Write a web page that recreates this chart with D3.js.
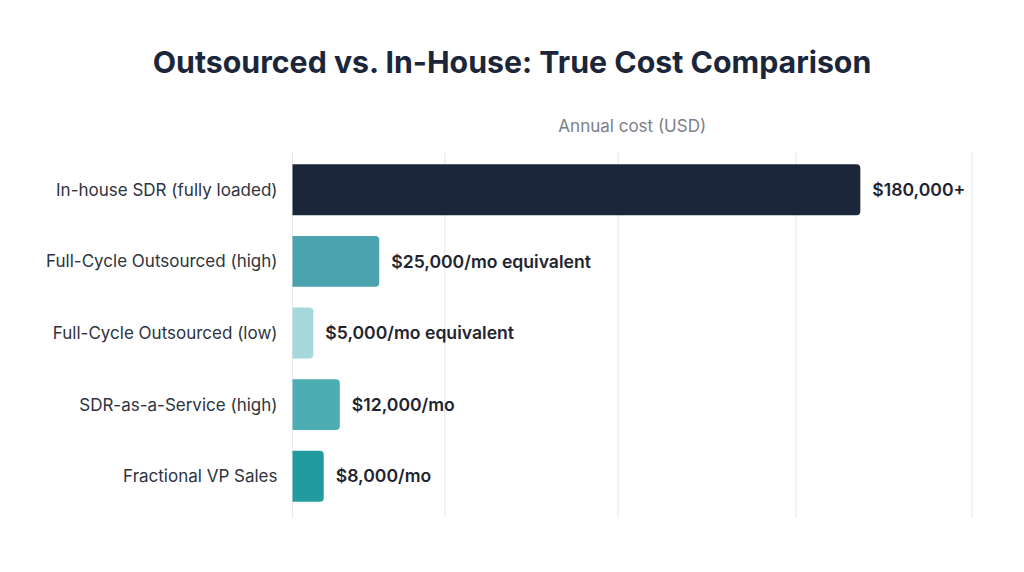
<!DOCTYPE html>
<html>
<head>
<meta charset="utf-8">
<script src="https://cdn.jsdelivr.net/npm/d3@7"></script>
<style>
  html, body { margin: 0; padding: 0; background: #fff; }
  svg text { font-family: Inter, "Noto Sans", sans-serif; }
</style>
</head>
<body>
<div id="chart"></div>
<script>
// chart data
var categories = [
    "In-house SDR (fully loaded)",
    "Full-Cycle Outsourced (high)",
    "Full-Cycle Outsourced (low)",
    "SDR-as-a-Service (high)",
    "Fractional VP Sales"
];
var values = [180000, 27500, 6600, 15000, 9900];
var valueLabels = [
    "$180,000+",
    "$25,000/mo equivalent",
    "$5,000/mo equivalent",
    "$12,000/mo",
    "$8,000/mo"
];
var barColors = ["#1b263b", "#4ba3af", "#a6d8db", "#4caeb3", "#219b9d"];
var gridValues = [0, 48300, 103200, 159600, 215400];
var xMax = 215400;

var width = 1024;
var height = 572;
var plotLeft = 292.5, plotRight = 972;
var plotTop = 150, plotBottom = 516;

var svg = d3.select("#chart")
    .append("svg")
    .attr("width", width)
    .attr("height", height);

var x = d3.scaleLinear()
    .domain([0, xMax])
    .range([plotLeft, plotRight]);

var y = d3.scaleBand()
    .domain(categories)
    .range([plotTop, plotBottom])
    .paddingInner(0.29)
    .paddingOuter(0.2);

// title
svg.append("text")
    .attr("x", width / 2)
    .attr("y", 73)
    .attr("text-anchor", "middle")
    .style("font-size", "30.3px")
    .style("font-weight", 700)
    .style("fill", "#1b263b")
    .text("Outsourced vs. In-House: True Cost Comparison");

// axis title
svg.append("text")
    .attr("x", (plotLeft + plotRight) / 2)
    .attr("y", 132)
    .attr("text-anchor", "middle")
    .style("font-size", "17px")
    .style("fill", "#7b8089")
    .text("Annual cost (USD)");

// grid
svg.append("g")
    .selectAll("line")
    .data(gridValues)
    .join("line")
    .attr("x1", d => x(d))
    .attr("x2", d => x(d))
    .attr("y1", plotTop + 2)
    .attr("y2", plotBottom + 2)
    .attr("stroke", "#e5e7eb")
    .attr("stroke-width", 1);

// bars, rounded on the right end only
function barPath(x0, x1, y0, h, r) {
    r = Math.min(r, (x1 - x0) / 2, h / 2);
    return "M" + x0 + "," + y0 +
        "H" + (x1 - r) +
        "Q" + x1 + "," + y0 + " " + x1 + "," + (y0 + r) +
        "V" + (y0 + h - r) +
        "Q" + x1 + "," + (y0 + h) + " " + (x1 - r) + "," + (y0 + h) +
        "H" + x0 + "Z";
}

svg.append("g")
    .selectAll("path")
    .data(categories)
    .join("path")
    .attr("d", (c, i) => barPath(x(0), x(values[i]), y(c), y.bandwidth(), 4))
    .attr("fill", (c, i) => barColors[i]);

// category labels
svg.append("g")
    .selectAll("text")
    .data(categories)
    .join("text")
    .attr("x", plotLeft - 15)
    .attr("y", c => y(c) + y.bandwidth() / 2)
    .attr("dy", "0.35em")
    .attr("text-anchor", "end")
    .style("font-size", "17px")
    .style("fill", "#2d3340")
    .text(c => c);

// value labels
svg.append("g")
    .selectAll("text")
    .data(categories)
    .join("text")
    .attr("x", (c, i) => x(values[i]) + 12)
    .attr("y", c => y(c) + y.bandwidth() / 2)
    .attr("dy", "0.35em")
    .style("font-size", "17.6px")
    .style("font-weight", 600)
    .style("fill", "#1f2430")
    .text((c, i) => valueLabels[i]);
</script>
</body>
</html>
